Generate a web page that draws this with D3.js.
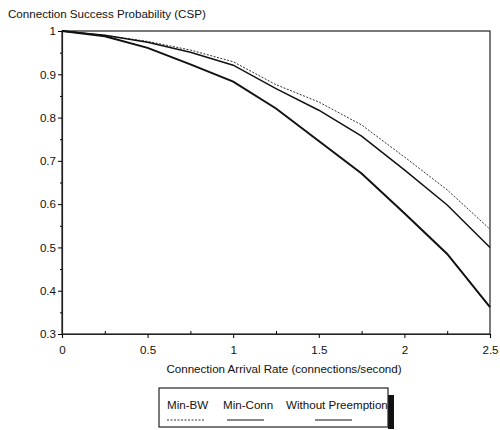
<!DOCTYPE html>
<head>
<script src="https://d3js.org/d3.v7.min.js"></script>
<style>
  body { margin: 0; background: white; }
  text { font-family: "Liberation Sans", Arial, sans-serif; fill: #111; }
</style>
</head>
<body>
<svg width="500" height="430" class="chart"></svg>
<script>
    // data
    const rates = [0, 0.25, 0.5, 0.75, 1, 1.25, 1.5, 1.75, 2, 2.25, 2.5];
    const minBW = [1, 0.99, 0.976, 0.956, 0.929, 0.876, 0.836, 0.783, 0.709, 0.633, 0.542];
    const minConn = [1, 0.99, 0.974, 0.951, 0.921, 0.867, 0.817, 0.757, 0.679, 0.598, 0.500];
    const withoutPre = [1, 0.988, 0.961, 0.923, 0.883, 0.821, 0.746, 0.671, 0.579, 0.485, 0.362];
    const xTicks = [0, 0.5, 1, 1.5, 2, 2.5];
    const yTicks = [0.3, 0.4, 0.5, 0.6, 0.7, 0.8, 0.9, 1];

    const svg = d3.select(".chart");
    const plotLeft = 62, plotRight = 490, plotTop = 31, plotBottom = 334;
    const fs = "11.6px";

    const x = d3.scaleLinear().domain([0, 2.5]).range([plotLeft, plotRight]);
    const y = d3.scaleLinear().domain([0.3, 1]).range([plotBottom, plotTop]);

    // frame
    svg.append("rect")
        .attr("x", plotLeft).attr("y", plotTop)
        .attr("width", plotRight - plotLeft).attr("height", plotBottom - plotTop)
        .attr("fill", "none").attr("stroke", "#222").attr("stroke-width", 1.2);

    // x axis
    const xAxis = svg.append("g")
        .attr("transform", "translate(0," + plotBottom + ")")
        .call(d3.axisBottom(x).tickValues(xTicks).tickFormat(d3.format("")).tickSize(4).tickPadding(8));
    svg.append("g")
        .attr("transform", "translate(0," + plotBottom + ")")
        .call(d3.axisTop(x).tickValues([0.25, 0.75, 1.25, 1.75, 2.25]).tickFormat("").tickSize(3))
        .select(".domain").remove();
    xAxis.selectAll("text").style("font-size", fs);

    // y axis
    const yAxis = svg.append("g")
        .attr("transform", "translate(" + plotLeft + ",0)")
        .call(d3.axisLeft(y).tickValues(yTicks).tickFormat(d3.format("")).tickSize(4).tickPadding(2));
    svg.append("g")
        .attr("transform", "translate(" + plotLeft + ",0)")
        .call(d3.axisLeft(y).tickValues([0.35, 0.45, 0.55, 0.65, 0.75, 0.85, 0.95]).tickFormat("").tickSize(2))
        .select(".domain").remove();
    yAxis.selectAll("text").style("font-size", fs);
    svg.selectAll(".domain").attr("stroke", "#222").attr("stroke-width", 1.2);

    // titles
    svg.append("text").attr("x", 8).attr("y", 18)
        .style("font-size", fs).text("Connection Success Probability (CSP)");
    svg.append("text").attr("x", 284).attr("y", 373)
        .attr("text-anchor", "middle").style("font-size", fs)
        .text("Connection Arrival Rate (connections/second)");

    const line = d3.line().x(function(d, i){ return x(rates[i]); }).y(function(d){ return y(d); });

    const series = [
        {name: "Min-BW", values: minBW, width: 1, dash: "2,1.5", color: "#333"},
        {name: "Min-Conn", values: minConn, width: 1.5, dash: null, color: "#111"},
        {name: "Without Preemption", values: withoutPre, width: 2, dash: null, color: "#111"}
    ];

    series.forEach(function(s){
        svg.append("path")
            .datum(s.values)
            .attr("d", line)
            .attr("fill", "none")
            .attr("stroke", s.color)
            .attr("stroke-width", s.width)
            .attr("stroke-dasharray", s.dash);
    });

    // legend
    const lg = svg.append("g");
    lg.append("rect").attr("x", 388).attr("y", 395).attr("width", 6).attr("height", 34).attr("fill", "#111");
    lg.append("rect").attr("x", 159).attr("y", 388).attr("width", 229).attr("height", 39)
        .attr("fill", "white").attr("stroke", "#222").attr("stroke-width", 1.2);
    const lx = [167, 223, 286];
    const lsx = [167, 227, 315];
    series.forEach(function(s, i){
        lg.append("text").attr("x", lx[i]).attr("y", 409).style("font-size", fs).text(s.name);
        lg.append("line")
            .attr("x1", lsx[i]).attr("x2", lsx[i] + 37)
            .attr("y1", 420).attr("y2", 420)
            .attr("stroke", s.color).attr("stroke-width", 1)
            .attr("stroke-dasharray", s.dash);
    });
</script>
</body>
